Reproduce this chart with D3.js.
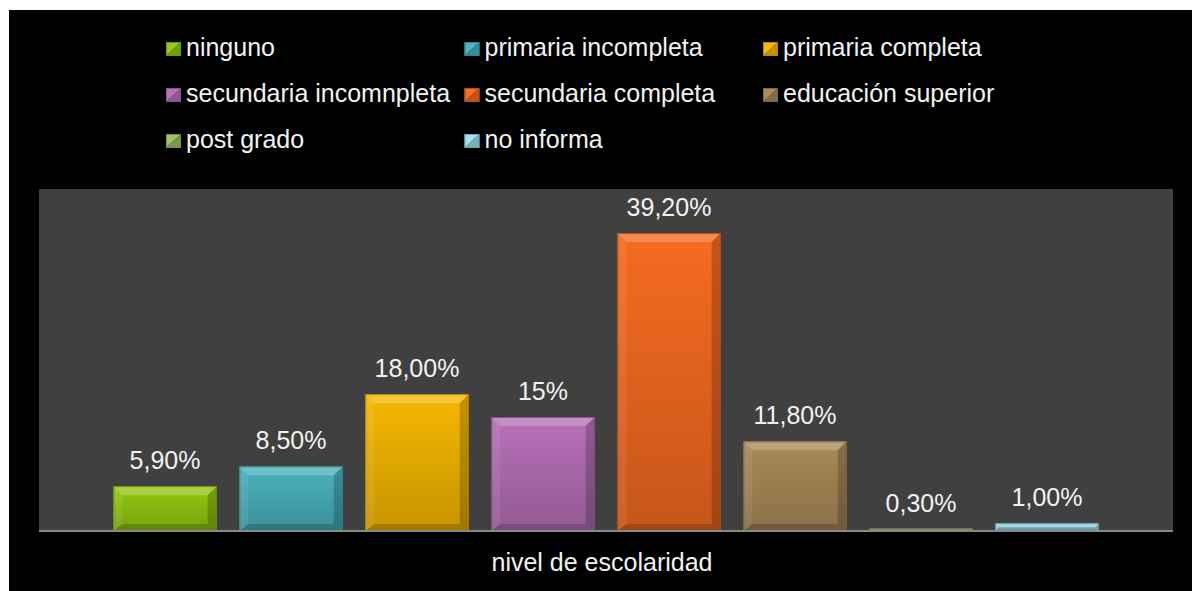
<!DOCTYPE html>
<html>
<head>
<meta charset="utf-8">
<script src="https://cdn.jsdelivr.net/npm/d3@7"></script>
<style>
  html, body { margin: 0; padding: 0; background: #fff; }
  svg { display: block; }
  text { font-family: "Liberation Sans", Arial, sans-serif; fill: #f2f2f2; }
</style>
</head>
<body>
<div id="chart"></div>
<script>
// series of the single category "nivel de escolaridad"
const series = ['ninguno', 'primaria incompleta', 'primaria completa',
  'secundaria incomnpleta', 'secundaria completa', 'educación superior',
  'post grado', 'no informa'];
const values = [5.9, 8.5, 18.0, 15, 39.2, 11.8, 0.3, 1.0];
const labels = ['5,90%', '8,50%', '18,00%', '15%', '39,20%', '11,80%',
  '0,30%', '1,00%'];
const colors = ['#86b70f', '#43a3ae', '#e0a800', '#a766a8', '#e0621e',
  '#9c7e50', '#8fb05a', '#8ccdd8'];
const axisTitle = 'nivel de escolaridad';

const width = 1192, height = 591;
const plot = {left: 39, right: 1173, top: 189, bottom: 531};

let svg = d3.select('#chart').append('svg')
  .attr('width', width)
  .attr('height', height);

// black chart area with white margin
svg.append('rect').attr('x', 9).attr('y', 10)
  .attr('width', width - 9).attr('height', height - 10)
  .attr('fill', '#000');

svg.append('rect')
  .attr('x', plot.left).attr('y', plot.top)
  .attr('width', plot.right - plot.left)
  .attr('height', plot.bottom - plot.top)
  .attr('fill', '#404040');

let x = d3.scaleBand()
  .domain(series)
  .range([plot.left, plot.right])
  .paddingInner(0.18)
  .paddingOuter(0.59);

let y = d3.scaleLinear()
  .domain([0, 45])
  .range([plot.bottom, plot.top]);

let defs = svg.append('defs');
colors.forEach(function(c, i) {
  let g = defs.append('linearGradient')
    .attr('id', 'grad' + i)
    .attr('x1', 0).attr('y1', 0).attr('x2', 0).attr('y2', 1);
  g.append('stop').attr('offset', '0%')
    .attr('stop-color', d3.color(c).brighter(0.25));
  g.append('stop').attr('offset', '100%')
    .attr('stop-color', d3.color(c).darker(0.35));
});

let data = series.map(function(s, i) {
  return {name: s, value: values[i], label: labels[i], color: colors[i], i: i};
});

let bars = svg.append('g').selectAll('g.bar')
  .data(data)
  .enter()
  .append('g')
  .attr('class', 'bar');

bars.each(function(d) {
  let g = d3.select(this);
  let x0 = x(d.name), x1 = x0 + x.bandwidth();
  let y0 = y(d.value), y1 = y(0);
  let h = y1 - y0;
  let b = Math.min(9, h / 2);
  let bb = Math.min(7, h / 2);
  let pts = function(a) {
    return a.map(function(p) { return p.join(','); }).join(' ');
  };
  g.append('rect')
    .attr('x', x0).attr('y', y0)
    .attr('width', x1 - x0).attr('height', h)
    .attr('fill', 'url(#grad' + d.i + ')');
  // bevel edges
  g.append('polygon')
    .attr('points', pts([[x0, y0], [x1, y0], [x1 - b, y0 + b], [x0 + b, y0 + b]]))
    .attr('fill', '#fff').attr('fill-opacity', 0.22);
  g.append('polygon')
    .attr('points', pts([[x0, y0], [x0 + b, y0 + b], [x0 + b, y1 - bb], [x0, y1]]))
    .attr('fill', '#fff').attr('fill-opacity', 0.08);
  g.append('polygon')
    .attr('points', pts([[x1, y0], [x1, y1], [x1 - b, y1 - bb], [x1 - b, y0 + b]]))
    .attr('fill', '#000').attr('fill-opacity', 0.2);
  g.append('polygon')
    .attr('points', pts([[x0, y1], [x1, y1], [x1 - b, y1 - bb], [x0 + b, y1 - bb]]))
    .attr('fill', '#000').attr('fill-opacity', 0.18);
  g.append('rect')
    .attr('x', x0 + 0.5).attr('y', y0 + 0.5)
    .attr('width', x1 - x0 - 1).attr('height', Math.max(0, h - 1))
    .attr('fill', 'none')
    .attr('stroke', d3.color(d.color).darker(0.6))
    .attr('stroke-width', 1);
});

bars.append('text')
  .attr('x', function(d) { return x(d.name) + x.bandwidth() / 2; })
  .attr('y', function(d) { return y(d.value) - 17; })
  .attr('text-anchor', 'middle')
  .style('font-size', '25px')
  .text(function(d) { return d.label; });

// axis line
svg.append('line')
  .attr('x1', plot.left).attr('x2', plot.right)
  .attr('y1', plot.bottom).attr('y2', plot.bottom)
  .attr('stroke', '#888').attr('stroke-width', 2);

svg.append('text')
  .attr('x', 602).attr('y', 571)
  .attr('text-anchor', 'middle')
  .style('font-size', '25px')
  .text(axisTitle);

// legend, 3 columns
let legend = svg.append('g').selectAll('g.legend')
  .data(data)
  .enter()
  .append('g')
  .attr('class', 'legend')
  .attr('transform', function(d) {
    let col = d.i % 3, row = Math.floor(d.i / 3);
    return 'translate(' + (166 + col * 298.5) + ',' + (56 + row * 46) + ')';
  });

legend.append('polygon')
  .attr('points', '0,-14 15,-14 0,0')
  .attr('fill', function(d) { return d3.color(d.color).brighter(0.3); });
legend.append('polygon')
  .attr('points', '15,-14 15,0 0,0')
  .attr('fill', function(d) { return d3.color(d.color).darker(0.4); });
legend.append('rect')
  .attr('x', 0.5).attr('y', -13.5).attr('width', 14).attr('height', 13)
  .attr('fill', 'none')
  .attr('stroke', function(d) { return d3.color(d.color).darker(0.6); });

legend.append('text')
  .attr('x', 20)
  .attr('y', 0)
  .style('font-size', '25px')
  .text(function(d) { return d.name; });
</script>
</body>
</html>
